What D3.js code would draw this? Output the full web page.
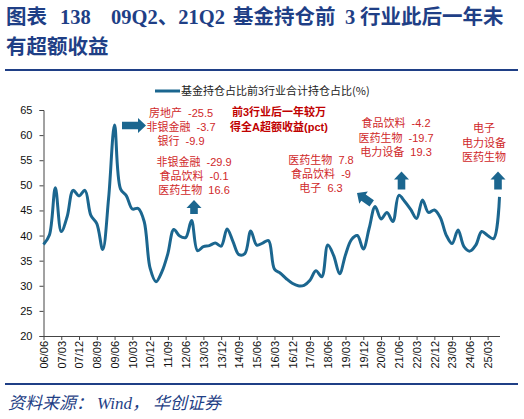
<!DOCTYPE html>
<html>
<head>
<meta charset="utf-8">
<script src="https://cdn.jsdelivr.net/npm/d3@7"></script>
<style>
  body { margin: 0; background: #fff; }
  svg { display: block; }
</style>
</head>
<body>
<svg id="chart" width="524" height="419"></svg>
<script>
// quarterly share (%) of fund holdings in top-3 industries, 06/06 .. 25/09
var shareValues = [
    38.2, 40.1, 49.5, 40.8, 43.8, 49.0, 47.9, 49.0, 44.0, 42.4,
    37.2, 47.5, 62.0, 49.3, 47.9, 45.3, 45.4, 42.8, 33.5, 30.8,
    32.8, 36.4, 41.2, 39.9, 39.6, 43.0, 37.0, 37.8, 38.0, 38.5,
    37.9, 41.3, 38.8, 36.2, 36.4, 40.9, 38.1, 38.5, 39.0, 33.3,
    32.5, 31.4, 30.5, 30.0, 30.1, 31.1, 33.0, 31.8, 38.1, 36.0,
    32.4, 36.2, 39.2, 40.0, 37.3, 41.5, 45.8, 43.3, 44.6, 42.8,
    48.0, 46.8, 45.2, 43.4, 47.1, 44.6, 45.1, 43.6, 40.1, 38.4,
    41.1, 37.8, 36.9, 38.1, 40.8, 40.0, 39.4, 47.7
];
// one label every 3 quarters
var tickLabels = [
    '06/06', '07/03', '07/12', '08/09', '09/06', '10/03', '10/12', '11/09', '12/06',
    '13/03', '13/12', '14/09', '15/06', '16/03', '16/12', '17/09', '18/06', '19/03',
    '19/12', '20/09', '21/06', '22/03', '22/12', '23/09', '24/06', '25/03'
];
var yTicks = [20, 25, 30, 35, 40, 45, 50, 55, 60, 65];
var legendLabel = '基金持仓占比前3行业合计持仓占比(%)';

var noteBlocks = [
    {lines: ['房地产  -25.5', '非银金融  -3.7', '银行  -9.9'], x: 181, y: 116.5, dy: 14},
    {lines: ['非银金融  -29.9', '食品饮料  -0.1', '医药生物  16.6'], x: 194, y: 165.5, dy: 14.3},
    {lines: ['医药生物  7.8', '食品饮料  -9', '电子  6.3'], x: 321, y: 164, dy: 14.2},
    {lines: ['食品饮料  -4.2', '医药生物  -19.7', '电力设备  19.3'], x: 396, y: 127.3, dy: 14.2},
    {lines: ['电子', '电力设备', '医药生物'], x: 484, y: 132.3, dy: 14.2}
];
var boldNote = ['前3行业后一年较万', '得全A超额收益(pct)'];

var blue = '#1b668f';
var navy = '#1f3f86';
var red = '#d0282a';

var svg = d3.select('#chart');

/* Title */
var title = svg.append('text')
    .attr('fill', navy)
    .attr('font-weight', 'bold')
    .attr('font-size', 20.5)
    .attr('font-family', '"Liberation Serif", "Noto Sans CJK SC", serif');
[['图表', 6, 24], ['138', 60, 24], ['09Q2、21Q2', 111, 24], ['基金持仓前', 233, 24],
 ['3', 345, 24], ['行业此后一年未', 360, 24], ['有超额收益', 6, 54]].forEach(function(p) {
    title.append('tspan').attr('x', p[1]).attr('y', p[2]).text(p[0]);
});

svg.append('line').attr('x1', 5).attr('x2', 518).attr('y1', 70).attr('y2', 70)
    .attr('stroke', navy).attr('stroke-width', 2);
svg.append('line').attr('x1', 5).attr('x2', 518).attr('y1', 384).attr('y2', 384)
    .attr('stroke', navy).attr('stroke-width', 2);

/* Source */
var src = svg.append('text')
    .attr('y', 409)
    .attr('fill', navy)
    .attr('font-size', 17)
    .attr('font-style', 'italic')
    .attr('font-family', '"Liberation Serif", "Noto Sans CJK SC", serif');
[['资料来源：', 8], ['Wind，', 97], ['华创证券', 153]].forEach(function(p) {
    src.append('tspan').attr('x', p[1]).text(p[0]);
});

/* Scales */
var x = d3.scaleLinear().domain([0, shareValues.length - 1]).range([43.5, 499.5]);
var y = d3.scaleLinear().domain([20, 65]).range([336, 110]);

/* Axes */
var yAxis = d3.axisLeft(y).tickValues(yTicks).tickSize(4).tickPadding(7);
var gy = svg.append('g').attr('transform', 'translate(43.5,0)').call(yAxis);
gy.selectAll('text').attr('font-size', 11).attr('font-family', '"Liberation Sans", Arial, sans-serif').attr('fill', '#111');

var xAxis = d3.axisBottom(x)
    .tickValues(tickLabels.map(function(d, i) { return i * 3; }))
    .tickFormat(function(d) { return tickLabels[d / 3]; })
    .tickSize(4)
    .tickSizeOuter(0);
var gx = svg.append('g').attr('transform', 'translate(0,336)').call(xAxis);
gx.selectAll('text')
    .attr('font-size', 11)
    .attr('font-family', '"Liberation Sans", Arial, sans-serif')
    .attr('fill', '#111')
    .attr('text-anchor', 'end')
    .attr('transform', 'rotate(-90)')
    .attr('x', -5)
    .attr('y', 0)
    .attr('dy', '0.35em');

[gx, gy].forEach(function(g) {
    g.select('.domain').attr('stroke', '#444');
    g.selectAll('.tick line').attr('stroke', '#444');
});

/* Legend */
svg.append('line').attr('x1', 155).attr('x2', 180).attr('y1', 91).attr('y2', 91)
    .attr('stroke', blue).attr('stroke-width', 3);
svg.append('text').attr('x', 181).attr('y', 95)
    .attr('font-size', 11)
    .attr('font-family', '"Noto Sans CJK SC", "Liberation Sans", sans-serif')
    .attr('fill', '#222')
    .text(legendLabel);

/* Line */
var line = d3.line()
    .x(function(d, i) { return x(i); })
    .y(function(d) { return y(d); })
    .curve(d3.curveCatmullRom.alpha(0.5));
svg.append('path')
    .datum(shareValues)
    .attr('d', line)
    .attr('fill', 'none')
    .attr('stroke', blue)
    .attr('stroke-width', 3)
    .attr('stroke-linejoin', 'round');

/* Notes */
noteBlocks.forEach(function(b) {
    b.lines.forEach(function(t, k) {
        svg.append('text')
            .attr('x', b.x).attr('y', b.y + k * b.dy)
            .attr('text-anchor', 'middle')
            .attr('font-size', 11)
            .attr('font-family', '"Liberation Sans", "Noto Sans CJK SC", sans-serif')
            .attr('fill', red)
            .attr('xml:space', 'preserve')
            .text(t);
    });
});
boldNote.forEach(function(t, k) {
    svg.append('text')
        .attr('x', 279).attr('y', 116 + k * 15)
        .attr('text-anchor', 'middle')
        .attr('font-size', 11)
        .attr('font-weight', 'bold')
        .attr('font-family', '"Liberation Sans", "Noto Sans CJK SC", sans-serif')
        .attr('fill', '#c00000')
        .text(t);
});

/* Block arrows: tip point, direction in degrees (0 = right, -90 = up) */
function blockArrow(tx, ty, angle, len) {
    var head = 8, hw = 7.5, sw = 3.8;
    var p = [[0, 0], [-head, -hw], [-head, -sw], [-len, -sw], [-len, sw], [-head, sw], [-head, hw]];
    svg.append('path')
        .attr('d', 'M' + p.join('L') + 'Z')
        .attr('transform', 'translate(' + tx + ',' + ty + ') rotate(' + angle + ')')
        .attr('fill', blue);
}
blockArrow(146, 125.5, 0, 24);
blockArrow(194, 200, -90, 14);
blockArrow(357, 193, -145, 18);
blockArrow(401.5, 171.5, -90, 18);
blockArrow(498, 171.5, -90, 18);
</script>
</body>
</html>
